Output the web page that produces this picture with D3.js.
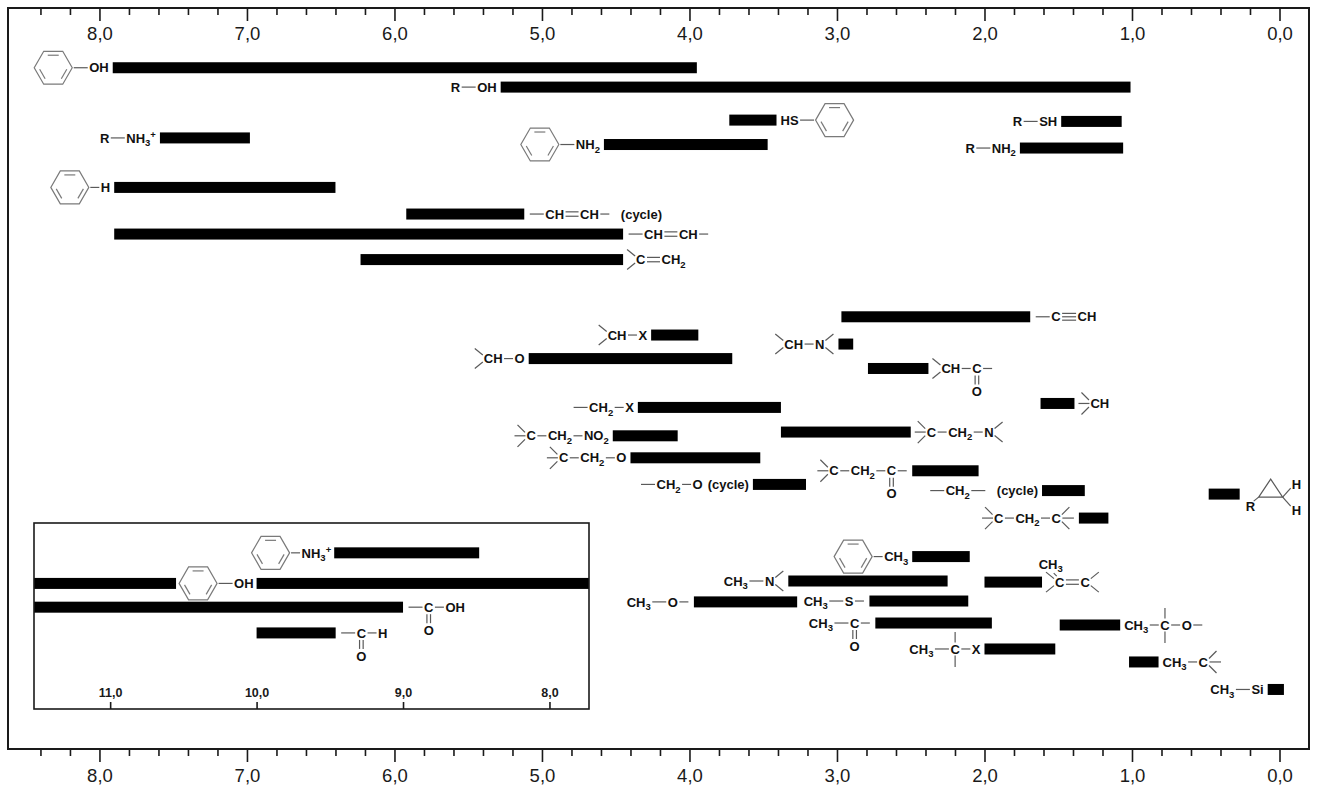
<!DOCTYPE html>
<html><head><meta charset="utf-8">
<script src="https://cdn.jsdelivr.net/npm/d3@7"></script>
<style>
html,body{margin:0;padding:0;background:#fff;}
svg{display:block;}
</style></head><body>
<svg id="chart" width="1320" height="785"></svg>
<script>
// ---------------- DATA ----------------
// main chart: chemical shift ranges (ppm), high end (left) and low end (right)
const mainHigh = [7.91,5.28,7.59,4.58,7.90,3.73,1.48,1.76,5.92,7.90,6.23,2.97,4.26,5.09,2.99,2.79,4.35,1.62,4.52,3.38,4.40,2.49,3.57,1.61,1.36,0.48,2.49,3.33,2.00,3.97,2.78,2.74,1.49,2.00,1.02,0.08];
const mainLow  = [3.95,1.01,6.98,3.47,6.40,3.41,1.07,1.06,5.12,4.45,4.45,1.69,3.94,3.71,2.89,2.38,3.38,1.39,4.08,2.50,3.52,2.04,3.21,1.32,1.16,0.27,2.10,2.25,1.61,3.27,2.11,1.95,1.08,1.52,0.82,-0.03];
// vertical row position of each bar
const mainRows = [2.17,3.05,5.36,5.66,7.61,4.55,4.61,5.82,8.82,9.73,10.89,13.49,14.32,15.39,14.73,15.84,17.61,17.43,18.9,18.73,19.9,20.49,21.11,21.39,22.64,21.55,24.39,25.5,25.55,26.45,26.41,27.41,27.5,28.59,29.18,30.43];
// side of the label: L = left of bar, R = right of bar
const mainSides = ["L","L","L","L","L","R","L","L","R","R","R","R","L","L","L","R","L","R","L","R","L","L","L","L","L","R","L","L","R","L","L","L","R","L","R","L"];
// structure labels (tokens: text with _sub ^sup, bonds, ring, branches)
const mainLabels = [
  ["ring","--","OH"],
  ["R","--","OH"],
  ["R","--","NH_3^+"],
  ["ring","--","NH_2"],
  ["ring","-","H"],
  ["HS","--","ring"],
  ["R","--","SH"],
  ["R","--","NH_2"],
  ["--","CH","=","CH","-","sp10","(cycle)"],
  ["--","CH","=","CH","-"],
  ["<2","C","=","CH_2"],
  ["--","C","#","CH"],
  ["<2","CH","-","X"],
  ["<2","CH","-","O"],
  ["<2","CH","-","N",">2"],
  ["<2","CH","-","C","O_down","-"],
  ["--","CH_2","-","X"],
  ["<3","CH"],
  ["<3","C","-","CH_2","-","NO_2"],
  ["<3","C","-","CH_2","-","N",">2"],
  ["<3","C","-","CH_2","-","O"],
  ["<3","C","-","CH_2","-","C","O_down","-"],
  ["--","CH_2","-","O","sp5","(cycle)"],
  ["--","CH_2","--","sp10","(cycle)"],
  ["<3","C","-","CH_2","-","C",">3"],
  ["cyclo"],
  ["ring","-","CH_3"],
  ["CH_3","--","N",">2"],
  ["<2","C","up:CH_3","=","C",">2"],
  ["CH_3","--","O","-"],
  ["CH_3","--","S","-"],
  ["CH_3","--","C","O_down","-"],
  ["CH_3","-","C","vbar","-","O","-"],
  ["CH_3","--","C","vbar","-","X"],
  ["CH_3","-","C",">3"],
  ["CH_3","--","Si"]
];
// inset (low field region)
const insetHigh = [9.47,10.0,12.0,12.0,10.0];
const insetLow  = [8.48,7.0,10.55,9.0,9.46];
const insetRows = [24.22,25.61,25.61,26.69,27.86];
const insetSides = ["L","L","L","R","R"];
const insetLabels = [
  ["ring","-","NH_3^+"],
  ["ring","--","OH"],
  null,
  ["--","C","O_down","-","OH"],
  ["--","C","O_down","-","H"]
];
// axis ticks
const majorTicks = [8,7,6,5,4,3,2,1,0];
const minorTicks = [8.4,8.2,7.8,7.6,7.4,7.2,6.8,6.6,6.4,6.2,5.8,5.6,5.4,5.2,4.8,4.6,4.4,4.2,3.8,3.6,3.4,3.2,2.8,2.6,2.4,2.2,1.8,1.6,1.4,1.2,0.8,0.6,0.4,0.2];
const insetTicks = [11,10,9,8];

// ---------------- LAYOUT ----------------
const FONT = "'Liberation Sans', Arial, Helvetica, sans-serif";
const svg = d3.select("#chart");
const frame = {left:8, top:8, right:1309, bottom:749};
const inset = {left:34, top:523, right:589, bottom:709};
const x = d3.scaleLinear().domain([8.62,-0.2]).range([frame.left, frame.right]);
const y = d3.scaleLinear().domain([0,32]).range([20,724]);
const xi = d3.scaleLinear().domain([11.52,7.73]).range([inset.left, inset.right]);
const fmt = v => d3.format(".1f")(v).replace(".", ",");
const barH = 11;
const RR = 19;
const BOND = "#5a5a5a", RING = "#7a7a7a", INK = "#111";

svg.append("rect").attr("width",1320).attr("height",785).attr("fill","#fff");

// frame
svg.append("rect").attr("x",frame.left).attr("y",frame.top)
  .attr("width",frame.right-frame.left).attr("height",frame.bottom-frame.top)
  .attr("fill","none").attr("stroke","#1a1a1a").attr("stroke-width",2);

function styleAxis(g, size, weight) {
  g.select(".domain").remove();
  g.selectAll(".tick line").attr("stroke","#1a1a1a").attr("stroke-width",1.6);
  g.selectAll(".tick text").attr("font-family",FONT).attr("font-size",size)
    .attr("font-weight",weight).attr("fill","#1a1a1a");
}
// top axis (ticks inside)
styleAxis(svg.append("g").attr("transform",`translate(0,${frame.top})`)
  .call(d3.axisBottom(x).tickValues(minorTicks).tickSize(7).tickFormat("")),18.5,"normal");
styleAxis(svg.append("g").attr("transform",`translate(0,${frame.top})`)
  .call(d3.axisBottom(x).tickValues(majorTicks).tickSize(13).tickPadding(5.5).tickFormat(fmt)),18.5,"normal");
// bottom axis (ticks outside)
styleAxis(svg.append("g").attr("transform",`translate(0,${frame.bottom})`)
  .call(d3.axisBottom(x).tickValues(minorTicks).tickSize(7).tickFormat("")),18.5,"normal");
styleAxis(svg.append("g").attr("transform",`translate(0,${frame.bottom})`)
  .call(d3.axisBottom(x).tickValues(majorTicks).tickSize(13).tickPadding(6.5).tickFormat(fmt)),18.5,"normal");

// ---------------- label drawing helpers ----------------
function bond(g,x1,y1,x2,y2){
  g.append("line").attr("x1",x1).attr("y1",y1).attr("x2",x2).attr("y2",y2)
    .attr("stroke",BOND).attr("stroke-width",1.2);
}
function txt(g,s,tx,ty,anchor){
  const t = g.append("text").attr("x",tx).attr("y",ty).attr("dy","0.36em")
    .attr("font-family",FONT).attr("font-size",13).attr("font-weight","bold")
    .attr("fill",INK).attr("text-anchor",anchor||"start");
  const segs = []; let i = 0;
  while (i < s.length) {
    if (s[i] === "_" || s[i] === "^") { segs.push({s:s[i+1], k:s[i]}); i += 2; }
    else { let j = i; while (j < s.length && s[j] !== "_" && s[j] !== "^") j++; segs.push({s:s.slice(i,j), k:""}); i = j; }
  }
  let off = 0;
  segs.forEach(sg => {
    const target = sg.k === "_" ? 3.5 : sg.k === "^" ? -5 : 0;
    const ts = t.append("tspan").text(sg.s);
    if (target !== off) ts.attr("dy", target - off);
    if (sg.k) ts.attr("font-size",9.5);
    off = target;
  });
  return t.node().getComputedTextLength();
}
function ring(g,cx,cy,r){
  const pts = [0,1,2,3,4,5].map(k => { const a = k*Math.PI/3; return [cx + r*Math.cos(a), cy + r*Math.sin(a)]; });
  g.append("polygon").attr("points",pts.map(p=>p.join(",")).join(" "))
    .attr("fill","none").attr("stroke",RING).attr("stroke-width",1.2);
  [[4,5],[0,1],[2,3]].forEach(([a,b]) => {
    const s = 0.76, p = pts[a], q = pts[b];
    const pa = [cx+(p[0]-cx)*s, cy+(p[1]-cy)*s], qa = [cx+(q[0]-cx)*s, cy+(q[1]-cy)*s];
    const t = 0.12;
    g.append("line")
      .attr("x1",pa[0]+(qa[0]-pa[0])*t).attr("y1",pa[1]+(qa[1]-pa[1])*t)
      .attr("x2",qa[0]+(pa[0]-qa[0])*t).attr("y2",qa[1]+(pa[1]-qa[1])*t)
      .attr("stroke",RING).attr("stroke-width",1.2);
  });
}
function drawLabel(parent, tokens, ax, cy, side){
  const g = parent.append("g");
  let cx = 0, last = {mid:0};
  tokens.forEach(tok => {
    if (tok === "-") { bond(g,cx+1.5,0,cx+10.5,0); cx += 12; }
    else if (tok === "--") { bond(g,cx+1.5,0,cx+15.5,0); cx += 17; }
    else if (tok === "=") { bond(g,cx+1.5,-2.2,cx+14.5,-2.2); bond(g,cx+1.5,2.2,cx+14.5,2.2); cx += 16; }
    else if (tok === "#") { [-3.4,0,3.4].forEach(d => bond(g,cx+1.5,d,cx+15.5,d)); cx += 17; }
    else if (tok === "<2") { bond(g,cx,-10,cx+8,-3.5); bond(g,cx,10,cx+8,3.5); cx += 9; }
    else if (tok === "<3") { bond(g,cx,0,cx+11,0); bond(g,cx+3,-11,cx+10.5,-3.5); bond(g,cx+3,11,cx+10.5,3.5); cx += 12; }
    else if (tok === ">2") { bond(g,cx+1,-3.5,cx+9,-10); bond(g,cx+1,3.5,cx+9,10); cx += 10; }
    else if (tok === ">3") { bond(g,cx+1.5,0,cx+13,0); bond(g,cx+1,-3.5,cx+8.5,-11); bond(g,cx+1,3.5,cx+8.5,11); cx += 14; }
    else if (tok === "ring") { ring(g,cx+RR,0,RR); cx += 2*RR; }
    else if (tok === "O_down") { const m = last.mid; bond(g,m-1.8,7,m-1.8,16); bond(g,m+1.8,7,m+1.8,16); txt(g,"O",m,23,"middle"); }
    else if (tok === "vbar") { const m = last.mid; bond(g,m,-17,m,-6.5); bond(g,m,6.5,m,18); }
    else if (tok.startsWith("up:")) { txt(g,tok.slice(3),last.mid-9,-18,"middle"); bond(g,last.mid-6,-9,last.mid-3,-6); }
    else if (tok.startsWith("sp")) { cx += +tok.slice(2); }
    else if (tok === "cyclo") {
      txt(g,"R",cx+2,12.5,"start");
      bond(g,cx+10,7,cx+15,3);
      g.append("path").attr("d",`M${cx+15},3L${cx+27},-15L${cx+39},3Z`)
        .attr("fill","none").attr("stroke",BOND).attr("stroke-width",1.2);
      bond(g,cx+39,3,cx+47,-6); bond(g,cx+39,3,cx+47,12);
      txt(g,"H",cx+48,-10,"start"); txt(g,"H",cx+48,16,"start");
      cx += 58;
    }
    else { const w = txt(g,tok,cx,0,"start"); last = {mid: cx + w/2}; cx += w; }
  });
  g.attr("transform",`translate(${side === "L" ? ax - cx : ax},${cy})`);
}

// ---------------- main bars ----------------
const gBars = svg.append("g");
const gLabels = svg.append("g");
mainHigh.forEach((hi,i) => {
  const x0 = x(hi), x1 = x(mainLow[i]), cy = y(mainRows[i]);
  gBars.append("rect").attr("x",x0).attr("y",cy-barH/2).attr("width",x1-x0).attr("height",barH).attr("fill","#000");
  drawLabel(gLabels, mainLabels[i], mainSides[i] === "L" ? x0 - 4 : x1 + 4, cy, mainSides[i]);
});

// ---------------- inset ----------------
svg.append("defs").append("clipPath").attr("id","insetClip").append("rect")
  .attr("x",inset.left).attr("y",inset.top).attr("width",inset.right-inset.left).attr("height",inset.bottom-inset.top);
svg.append("rect").attr("x",inset.left).attr("y",inset.top)
  .attr("width",inset.right-inset.left).attr("height",inset.bottom-inset.top)
  .attr("fill","#fff");
const gIB = svg.append("g").attr("clip-path","url(#insetClip)");
const gIL = svg.append("g");
insetHigh.forEach((hi,i) => {
  const x0 = xi(hi), x1 = xi(insetLow[i]), cy = y(insetRows[i]);
  gIB.append("rect").attr("x",x0).attr("y",cy-barH/2).attr("width",x1-x0).attr("height",barH).attr("fill","#000");
  if (insetLabels[i]) drawLabel(gIL, insetLabels[i], insetSides[i] === "L" ? Math.max(x0, inset.left) - 3 : Math.min(x1, inset.right) + 4, cy, insetSides[i]);
});
styleAxis(svg.append("g").attr("transform",`translate(0,${inset.bottom})`)
  .call(d3.axisTop(xi).tickValues(insetTicks).tickSize(7).tickPadding(5).tickFormat(fmt)),12.5,"bold");
svg.append("rect").attr("x",inset.left).attr("y",inset.top)
  .attr("width",inset.right-inset.left).attr("height",inset.bottom-inset.top)
  .attr("fill","none").attr("stroke","#1a1a1a").attr("stroke-width",1.6);
</script>
</body></html>
